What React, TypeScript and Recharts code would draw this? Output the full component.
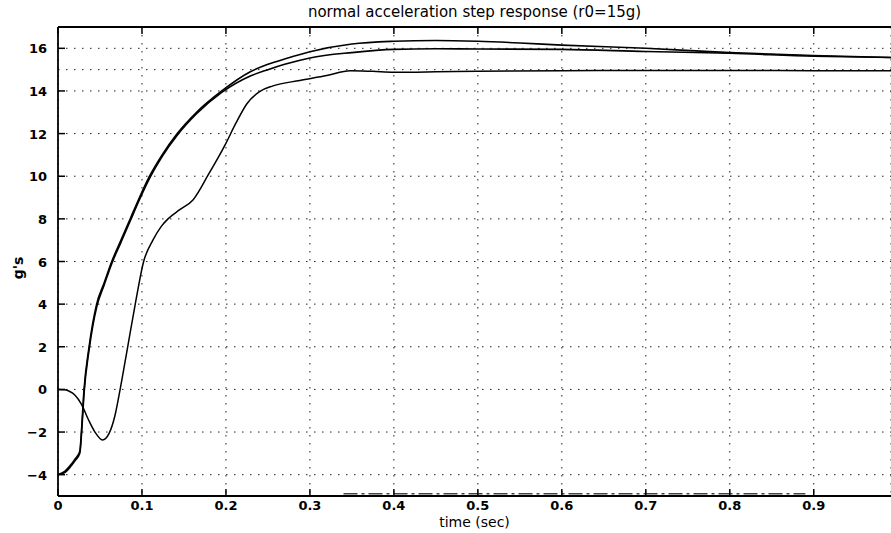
import React from "react";
import { LineChart, Line, XAxis, YAxis, CartesianGrid, ReferenceLine } from "recharts";

// time (sec) samples and values (g's) for each trace
const tA = [0, 0.008, 0.015, 0.02, 0.026, 0.028, 0.031, 0.037, 0.046, 0.055, 0.064, 0.075, 0.086, 0.097, 0.109, 0.124, 0.142, 0.165, 0.195, 0.229, 0.25, 0.27, 0.3, 0.35, 0.4, 0.45, 0.5, 0.55, 0.6, 0.7, 0.8, 0.9, 0.992];
const vA = [-4, -3.85, -3.55, -3.28, -2.9, -1.9, 0, 2, 4, 5, 6, 7, 8, 9, 10, 11, 12, 13, 14, 14.9, 15.25, 15.5, 15.84, 16.2, 16.33, 16.37, 16.33, 16.25, 16.15, 16.0, 15.8, 15.66, 15.57];

const tB = [0, 0.008, 0.015, 0.02, 0.026, 0.028, 0.031, 0.037, 0.046, 0.055, 0.064, 0.075, 0.086, 0.097, 0.109, 0.124, 0.142, 0.165, 0.195, 0.229, 0.25, 0.27, 0.3, 0.35, 0.4, 0.45, 0.5, 0.6, 0.7, 0.8, 0.9, 0.992];
const vB = [-4, -3.9, -3.62, -3.36, -3.0, -2.1, -0.2, 1.85, 3.85, 4.9, 5.9, 6.9, 7.9, 8.9, 9.9, 10.92, 11.92, 12.93, 13.93, 14.7, 15.0, 15.25, 15.55, 15.8, 15.95, 15.98, 15.97, 15.95, 15.85, 15.77, 15.63, 15.57];

const tC = [0, 0.008, 0.014, 0.02, 0.028, 0.036, 0.044, 0.053, 0.061, 0.068, 0.074, 0.083, 0.092, 0.102, 0.113, 0.123, 0.131, 0.145, 0.161, 0.179, 0.199, 0.212, 0.225, 0.24, 0.256, 0.288, 0.32, 0.348, 0.375, 0.4, 0.45, 0.5, 0.6, 0.7, 0.8, 0.9, 0.992];
const vC = [0, -0.02, -0.1, -0.26, -0.7, -1.4, -2.0, -2.37, -2.05, -1.2, 0, 2, 4, 6, 7.0, 7.65, 8.0, 8.43, 8.9, 10.07, 11.47, 12.5, 13.4, 13.97, 14.24, 14.49, 14.72, 14.95, 14.92, 14.88, 14.9, 14.93, 14.95, 14.96, 14.96, 14.95, 14.95];

const tD = [0.34, 0.89];
const vD = [-4.9, -4.9];

const xTicks = [0, 0.1, 0.2, 0.3, 0.4, 0.5, 0.6, 0.7, 0.8, 0.9];
const yTicks = [-4, -2, 0, 2, 4, 6, 8, 10, 12, 14, 16];
const xDomain = [0, 0.992];
const yDomain = [-5, 17];
const refLevel = 15;

const title = "normal acceleration step response (r0=15g)";
const xLabel = "time (sec)";
const yLabel = "g's";

const mk = (t: number[], v: number[]) => t.map((x, i) => ({ t: x, v: v[i] }));
const dataA = mk(tA, vA);
const dataB = mk(tB, vB);
const dataC = mk(tC, vC);
const dataD = mk(tD, vD);

const FONT = "DejaVu Sans";

const fmtX = (v: number) => (v === 0 ? "0" : v.toFixed(1));
const fmtY = (v: number) => (v < 0 ? "\u2212" + Math.abs(v) : String(v));

const BottomTick = (props: any) => {
  const { x, y, payload } = props;
  return (
    <g>
      <line x1={x} y1={y} x2={x} y2={y - 7} stroke="#000" strokeWidth={1.5} />
      <text x={x} y={y + 14} textAnchor="middle" fontFamily={FONT} fontWeight="bold" fontSize={13} fill="#000">
        {fmtX(payload.value)}
      </text>
    </g>
  );
};

const TopTick = (props: any) => {
  const { x, y } = props;
  return <line x1={x} y1={y} x2={x} y2={y + 7} stroke="#000" strokeWidth={1.5} />;
};

const LeftTick = (props: any) => {
  const { x, y, payload } = props;
  return (
    <g>
      <line x1={x} y1={y} x2={x + 7} y2={y} stroke="#000" strokeWidth={1.5} />
      <text x={x - 11} y={y + 5} textAnchor="end" fontFamily={FONT} fontWeight="bold" fontSize={13} fill="#000">
        {fmtY(payload.value)}
      </text>
    </g>
  );
};

export default function App() {
  return (
    <div style={{ position: "absolute", left: 0, top: 0, width: 891, height: 533, background: "#fff" }}>
      <LineChart width={891} height={533} margin={{ top: 0, right: 0, bottom: 0, left: 0 }}>
        <CartesianGrid xAxisId="b" yAxisId="l" stroke="#222" strokeDasharray="1.5 6.5" strokeWidth={1} />
        <XAxis
          xAxisId="b"
          type="number"
          dataKey="t"
          domain={xDomain}
          ticks={xTicks}
          allowDataOverflow
          height={37}
          tickSize={0}
          tickMargin={0}
          tickLine={false}
          tick={<BottomTick />}
          axisLine={{ stroke: "#000", strokeWidth: 1.8 }}
          interval={0}
        />
        <XAxis
          xAxisId="top"
          orientation="top"
          type="number"
          dataKey="t"
          domain={xDomain}
          ticks={xTicks}
          allowDataOverflow
          height={27}
          tickSize={0}
          tickMargin={0}
          tickLine={false}
          tick={<TopTick />}
          axisLine={{ stroke: "#000", strokeWidth: 1.8 }}
          interval={0}
        />
        <YAxis
          yAxisId="l"
          type="number"
          domain={yDomain}
          ticks={yTicks}
          allowDataOverflow
          width={58}
          tickSize={0}
          tickMargin={0}
          tickLine={false}
          tick={<LeftTick />}
          axisLine={{ stroke: "#000", strokeWidth: 1.8 }}
          interval={0}
        />
        <ReferenceLine xAxisId="b" yAxisId="l" y={refLevel} stroke="#222" strokeDasharray="1.5 6.5" />
        <Line xAxisId="b" yAxisId="l" data={dataD} dataKey="v" type="linear" stroke="#444" strokeWidth={1.5} strokeDasharray="14 4 3 4" dot={false} isAnimationActive={false} />
        <Line xAxisId="b" yAxisId="l" data={dataC} dataKey="v" type="monotone" stroke="#000" strokeWidth={1.5} dot={false} isAnimationActive={false} />
        <Line xAxisId="b" yAxisId="l" data={dataB} dataKey="v" type="monotone" stroke="#000" strokeWidth={1.6} dot={false} isAnimationActive={false} />
        <Line xAxisId="b" yAxisId="l" data={dataA} dataKey="v" type="monotone" stroke="#000" strokeWidth={1.6} dot={false} isAnimationActive={false} />
      </LineChart>
      <div style={{ position: "absolute", left: 58, width: 833, top: 3, textAlign: "center", fontFamily: FONT, fontSize: 15, color: "#000", lineHeight: "18px" }}>
        {title}
      </div>
      <div style={{ position: "absolute", left: 58, width: 833, top: 514, textAlign: "center", fontFamily: FONT, fontSize: 14, color: "#000", lineHeight: "16px" }}>
        {xLabel}
      </div>
      <div style={{ position: "absolute", left: 18, top: 268, width: 0, height: 0 }}>
        <div style={{ position: "absolute", transform: "translate(-50%, -50%) rotate(-90deg)", fontFamily: FONT, fontWeight: "bold", fontSize: 14, color: "#000", whiteSpace: "nowrap", lineHeight: "17px" }}>
          {yLabel}
        </div>
      </div>
    </div>
  );
}
